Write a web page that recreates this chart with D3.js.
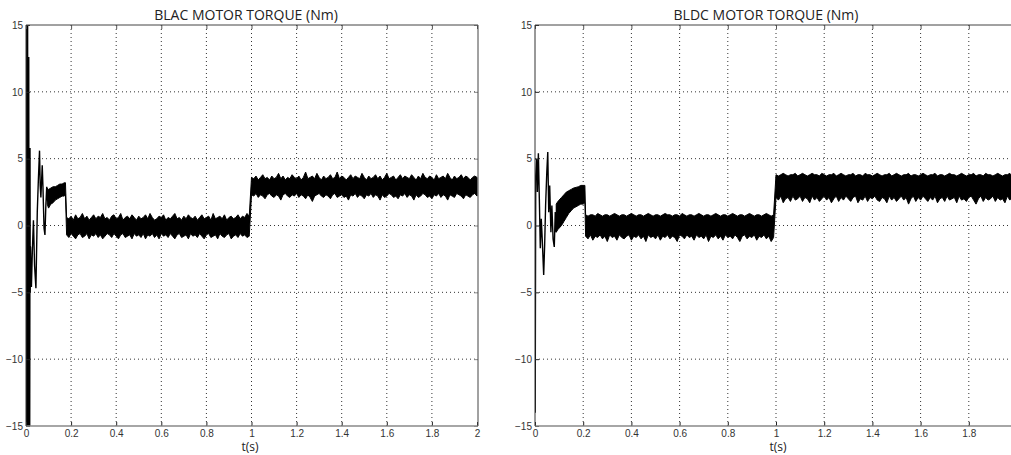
<!DOCTYPE html>
<html>
<head>
<meta charset="utf-8">
<script src="https://cdn.jsdelivr.net/npm/d3@7"></script>
<style>
  body { margin: 0; background: #fff; }
  .tick text { font-family: "Liberation Sans", Arial, sans-serif; font-size: 10px; fill: #333; }
  .title { font-family: "Open Sans", sans-serif; font-size: 14px; fill: #222; }
  .xlabel { font-family: "Open Sans", sans-serif; font-size: 12px; fill: #222; }
</style>
</head>
<body>
<svg id="chart" width="1011" height="455"></svg>
<script>
var w = 1011, h = 455;
var step = 0.01; // sample spacing of the steady-state envelopes (s)

var xTicksLeft = [0, 0.2, 0.4, 0.6, 0.8, 1, 1.2, 1.4, 1.6, 1.8, 2];
var xTicksRight = [0, 0.2, 0.4, 0.6, 0.8, 1, 1.2, 1.4, 1.6, 1.8];
var yTicks = [-15, -10, -5, 0, 5, 10, 15];

// ---- BLAC torque ----
var blacTransient = [[0,0],[0.0004,-12.2],[0.0012,15],[0.0022,-15],[0.0032,15],[0.0042,-15],[0.0052,15],
  [0.0062,-15],[0.0072,15],[0.0082,-15],[0.0095,12.6],[0.0108,-15],[0.0122,12.6],[0.0135,-15],[0.015,5.8],
  [0.0165,-15],[0.0178,5.8],[0.0188,-5],[0.020,-1.6],[0.024,-4.6],[0.028,-2.0],[0.033,0.4],[0.038,-3.0],
  [0.044,-4.7],[0.050,1.0],[0.055,3.5],[0.060,5.6],[0.063,3.0],[0.066,2.1],[0.072,4.5],[0.075,3.0],
  [0.080,-0.2],[0.084,-0.7],[0.088,1.5],[0.092,2.9],[0.096,1.8]];

var blacRiseT  = [0.094,0.10,0.11,0.12,0.13,0.14,0.15,0.16,0.17,0.175];
var blacRiseHi = [2.8,2.7,2.8,2.9,2.9,3.0,3.1,3.1,3.2,3.2];
var blacRiseLo = [1.6,1.3,1.6,1.7,1.9,2.0,2.1,2.2,2.2,2.3];

var blacLowStart = 0.18;
var blacLowHi = [0.6,0.5,0.7,0.4,0.8,0.5,0.6,0.9,0.5,0.7,
  0.4,0.6,0.8,0.5,0.7,0.6,0.9,0.5,0.6,0.4,
  0.7,0.8,0.5,0.6,0.9,0.4,0.6,0.7,0.5,0.8,
  0.6,0.4,0.7,0.5,0.6,0.8,0.5,0.9,0.6,0.4,
  0.5,0.7,0.6,0.8,0.4,0.6,0.5,0.7,0.9,0.5,
  0.6,0.4,0.7,0.5,0.8,0.6,0.5,0.7,0.4,0.6,
  0.8,0.5,0.6,0.7,0.4,0.9,0.5,0.6,0.7,0.5,
  0.8,0.4,0.6,0.7,0.5,0.6,0.8,0.5,0.7,0.6,
  0.9,0.7];
var blacLowLo = [-0.7,-0.9,-0.6,-0.8,-1.0,-0.7,-0.6,-0.9,-0.8,-0.6,
  -1.0,-0.7,-0.8,-0.6,-0.9,-0.7,-1.0,-0.8,-0.6,-0.7,
  -0.9,-0.6,-0.8,-1.0,-0.7,-0.6,-0.9,-0.8,-0.7,-1.0,
  -0.6,-0.8,-0.7,-0.9,-0.6,-1.0,-0.7,-0.8,-0.6,-0.9,
  -0.7,-1.0,-0.6,-0.8,-0.7,-0.9,-0.6,-0.8,-1.0,-0.7,
  -0.6,-0.9,-0.8,-0.7,-1.0,-0.6,-0.8,-0.7,-0.9,-0.6,
  -0.8,-1.0,-0.7,-0.6,-0.9,-0.8,-0.7,-1.0,-0.6,-0.8,
  -0.9,-0.7,-0.6,-1.0,-0.8,-0.7,-0.9,-0.6,-0.8,-0.7,
  -0.9,-0.8];

var blacHighStart = 1.0;
var blacHighHi = [3.6,3.5,3.7,3.4,3.6,3.8,3.5,3.6,3.4,3.7,
  3.5,3.6,3.9,3.5,3.7,3.4,3.6,3.5,3.8,3.6,
  3.5,3.7,3.4,3.6,4.0,3.5,3.6,3.7,3.5,3.9,
  3.6,3.4,3.7,3.5,3.6,3.8,3.5,3.6,4.0,3.5,
  3.7,3.6,3.4,3.6,3.8,3.5,3.7,3.6,3.5,3.9,
  3.6,3.4,3.7,3.5,3.6,3.8,3.5,3.7,3.4,3.6,
  3.9,3.5,3.6,3.7,3.4,3.6,3.8,3.5,3.7,3.6,
  3.5,3.8,3.6,3.4,3.7,3.5,3.9,3.6,3.5,3.7,
  3.6,3.4,3.8,3.5,3.6,3.7,3.5,3.9,3.6,3.4,
  3.7,3.5,3.6,3.8,3.5,3.7,3.6,3.4,3.6,3.7,
  3.6];
var blacHighLo = [2.3,2.2,2.4,2.1,2.3,2.2,2.0,2.3,2.4,2.2,
  2.1,2.3,2.2,1.9,2.3,2.4,2.2,2.1,2.3,2.2,
  2.4,2.1,2.3,2.2,2.0,2.3,2.1,1.8,2.2,2.3,
  2.4,2.2,2.1,2.3,2.2,2.0,2.3,2.4,2.1,2.2,
  2.3,2.1,2.2,1.9,2.3,2.2,2.4,2.1,2.3,2.2,
  2.0,2.3,2.2,2.4,2.1,2.3,2.2,1.9,2.3,2.1,
  2.2,2.4,2.3,2.1,2.2,2.0,2.3,2.2,2.4,2.1,
  2.3,2.2,1.9,2.3,2.1,2.2,2.4,2.3,2.1,2.2,
  2.0,2.3,2.2,2.4,2.1,2.3,2.2,1.9,2.3,2.2,
  2.1,2.4,2.3,2.2,2.0,2.3,2.2,2.1,2.3,2.4,
  2.2];

// ---- BLDC torque ----
var bldcTransient = [[0,0],[0.0008,-14],[0.003,3.7],[0.007,5.0],[0.010,2.5],[0.014,5.4],[0.018,2.0],
  [0.022,-1.7],[0.026,0.5],[0.030,-1.0],[0.036,-3.7],[0.040,-1.5],[0.044,1.5],[0.049,4.0],[0.053,5.5],
  [0.057,1.0],[0.061,3.0],[0.066,-0.5],[0.070,1.5],[0.075,-1.0],[0.080,-1.6],[0.084,1.0],[0.088,-0.5],
  [0.092,1.5]];

var bldcRiseT  = [0.088,0.095,0.10,0.11,0.12,0.13,0.14,0.15,0.16,0.17,0.18,0.19,0.20,0.207];
var bldcRiseHi = [1.6,1.8,1.9,2.1,2.3,2.5,2.6,2.7,2.8,2.85,2.9,3.0,3.0,3.0];
var bldcRiseLo = [-0.5,-0.3,-0.2,0.0,0.3,0.6,0.9,1.1,1.3,1.4,1.5,1.6,1.6,1.7];

var bldcLowStart = 0.21;
var bldcLowHi = [0.8,0.7,0.8,0.8,0.7,0.9,0.8,0.7,0.8,0.8,
  0.7,0.8,0.9,0.8,0.7,0.8,0.8,0.7,0.8,0.9,
  0.8,0.7,0.8,0.8,0.7,0.8,0.9,0.8,0.7,0.8,
  0.8,0.7,0.8,0.9,0.8,0.8,0.7,0.8,0.8,0.7,
  0.9,0.8,0.7,0.8,0.8,0.7,0.8,0.9,0.8,0.7,
  0.8,0.8,0.7,0.8,0.9,0.8,0.7,0.8,0.8,0.7,
  0.8,0.9,0.8,0.7,0.8,0.8,0.7,0.8,0.9,0.8,
  0.7,0.8,0.8,0.7,0.8,0.9,0.8,0.7,0.8];
var bldcLowLo = [-0.8,-1.0,-0.7,-1.1,-0.8,-0.9,-0.7,-1.0,-0.8,-1.2,
  -0.7,-0.9,-0.8,-1.1,-0.7,-0.9,-1.0,-0.8,-0.7,-1.1,
  -0.8,-0.9,-0.7,-1.0,-0.8,-1.2,-0.7,-0.9,-0.8,-1.0,
  -0.7,-1.1,-0.8,-0.9,-0.7,-1.0,-0.8,-0.9,-1.2,-0.7,
  -0.8,-1.0,-0.7,-0.9,-0.8,-1.1,-0.7,-0.9,-0.8,-1.0,
  -0.7,-1.2,-0.8,-0.9,-0.7,-1.0,-0.8,-1.1,-0.7,-0.9,
  -0.8,-1.0,-0.7,-0.9,-1.2,-0.8,-0.7,-1.0,-0.8,-0.9,
  -0.7,-1.1,-0.8,-0.9,-0.7,-1.0,-0.8,-1.2,-0.9];

var bldcHighStart = 1.0;
var bldcHighHi = [3.8,3.7,3.8,3.9,3.8,3.7,3.8,3.8,3.9,3.7,
  3.8,3.9,3.8,3.7,3.8,3.9,3.8,3.8,3.7,3.9,
  3.8,3.7,3.8,3.8,3.9,3.7,3.8,3.9,3.8,3.7,
  3.8,3.8,3.9,3.7,3.8,3.8,3.7,3.9,3.8,3.8,
  3.7,3.8,3.9,3.8,3.7,3.8,3.8,3.9,3.7,3.8,
  3.9,3.8,3.7,3.8,3.8,3.9,3.7,3.8,3.8,3.7,
  3.8,3.9,3.8,3.7,3.8,3.8,3.9,3.7,3.8,3.8,
  3.7,3.8,3.9,3.8,3.8,3.7,3.8,3.9,3.8,3.7,
  3.8,3.8,3.9,3.7,3.8,3.8,3.7,3.9,3.8,3.8,
  3.7,3.8,3.9,3.8,3.7,3.8,3.8,3.9,3.7,3.8];
var bldcHighLo = [2.1,1.9,2.2,1.7,2.0,2.1,1.8,2.2,1.9,2.0,
  2.2,1.8,2.1,2.0,1.7,2.2,1.9,2.1,1.8,2.0,
  2.2,1.9,2.1,1.7,2.0,2.2,1.8,2.1,1.9,2.2,
  2.0,1.8,2.1,2.2,1.7,2.0,1.9,2.2,1.8,2.1,
  2.0,2.2,1.9,1.8,2.1,2.0,1.7,2.2,1.9,2.1,
  1.8,2.0,2.2,1.9,2.1,1.6,2.0,2.2,1.8,2.1,
  1.9,2.2,2.0,1.8,2.1,1.9,2.2,1.7,2.0,2.1,
  1.8,2.2,1.9,2.0,2.1,1.7,2.2,1.9,2.0,1.8,
  2.1,2.2,1.9,1.6,2.0,2.2,1.8,2.1,1.9,2.0,
  2.2,1.8,2.1,1.9,2.0,1.7,2.2,1.9,2.1,2.0];

function envelope(tArr, hi, lo) {
  return hi.map((v, i) => ({ t: tArr[i], hi: v, lo: lo[i] }));
}
function sampled(start, hi, lo) {
  return hi.map((v, i) => ({ t: start + i * step, hi: v, lo: lo[i] }));
}

var panels = [
  {
    title: 'BLAC MOTOR TORQUE (Nm)', titleX: 246, labelX: 250,
    range: [26, 477], right: 478, ticks: xTicksLeft,
    transient: blacTransient,
    band: envelope(blacRiseT, blacRiseHi, blacRiseLo)
      .concat(sampled(blacLowStart, blacLowHi, blacLowLo))
      .concat(sampled(blacHighStart, blacHighHi, blacHighLo))
  },
  {
    title: 'BLDC MOTOR TORQUE (Nm)', titleX: 766, labelX: 778,
    range: [535, 1017], right: 1017, ticks: xTicksRight,
    transient: bldcTransient,
    band: envelope(bldcRiseT, bldcRiseHi, bldcRiseLo)
      .concat(sampled(bldcLowStart, bldcLowHi, bldcLowLo))
      .concat(sampled(bldcHighStart, bldcHighHi, bldcHighLo))
  }
];

var svg = d3.select('#chart');
var plotTop = 25, plotBottom = 426;

var yScale = d3.scaleLinear().domain([-15, 15]).range([plotBottom, plotTop]);

panels.forEach(function(p, k) {
  var xScale = d3.scaleLinear().domain([0, 2]).range(p.range);
  var left = p.range[0], right = p.right;
  var g = svg.append('g');

  g.append('clipPath').attr('id', 'clip' + k)
    .append('rect').attr('x', left).attr('y', plotTop)
    .attr('width', right - left).attr('height', plotBottom - plotTop);

  // dotted grid
  g.append('g').selectAll('line')
    .data(p.ticks.filter(d => d > 0 && d < 2))
    .enter().append('line')
    .attr('x1', d => xScale(d)).attr('x2', d => xScale(d))
    .attr('y1', plotTop).attr('y2', plotBottom)
    .attr('stroke', '#333').attr('stroke-dasharray', '1,3');
  g.append('g').selectAll('line')
    .data(yTicks.filter(d => d > -15 && d < 15))
    .enter().append('line')
    .attr('x1', left).attr('x2', right)
    .attr('y1', d => yScale(d)).attr('y2', d => yScale(d))
    .attr('stroke', '#333').attr('stroke-dasharray', '1,3');

  // data
  var plot = g.append('g').attr('clip-path', 'url(#clip' + k + ')');
  var area = d3.area()
    .x(d => xScale(d.t))
    .y0(d => yScale(d.lo))
    .y1(d => yScale(d.hi));
  plot.append('path')
    .datum(p.band)
    .attr('d', area)
    .attr('fill', '#000').attr('stroke', '#000').attr('stroke-width', 1);

  var line = d3.line()
    .x(d => xScale(d[0]))
    .y(d => yScale(d[1]));
  plot.append('path')
    .datum(p.transient)
    .attr('d', line)
    .attr('fill', 'none').attr('stroke', '#000').attr('stroke-width', 1.4);

  // axes with inward ticks
  var xAxis = d3.axisBottom(xScale).tickValues(p.ticks).tickSize(-4).tickPadding(4)
    .tickFormat(d3.format('~g'));
  var gx = g.append('g').attr('transform', `translate(0, ${plotBottom})`).call(xAxis);
  gx.select('.domain').remove();
  gx.selectAll('.tick line').attr('stroke', '#222');

  var xTop = d3.axisTop(xScale).tickValues(p.ticks).tickSize(-4).tickFormat('');
  var gt = g.append('g').attr('transform', `translate(0, ${plotTop})`).call(xTop);
  gt.select('.domain').remove();
  gt.selectAll('.tick line').attr('stroke', '#555');

  var yAxis = d3.axisLeft(yScale).tickValues(yTicks).tickSize(-4).tickPadding(3);
  var gy = g.append('g').attr('transform', `translate(${left}, 0)`).call(yAxis);
  gy.select('.domain').remove();
  gy.selectAll('.tick line').attr('stroke', '#222');

  if (k === 0) {
    var yRight = d3.axisRight(yScale).tickValues(yTicks).tickSize(-4).tickFormat('');
    var gr = g.append('g').attr('transform', `translate(${right}, 0)`).call(yRight);
    gr.select('.domain').remove();
    gr.selectAll('.tick line').attr('stroke', '#888');
  }

  // frame
  g.append('line').attr('x1', left).attr('x2', right).attr('y1', plotTop).attr('y2', plotTop)
    .attr('stroke', '#444');
  g.append('line').attr('x1', left).attr('x2', right).attr('y1', plotBottom).attr('y2', plotBottom)
    .attr('stroke', '#888').attr('stroke-width', 1.6);
  g.append('line').attr('x1', left).attr('x2', left).attr('y1', plotTop).attr('y2', plotBottom)
    .attr('stroke', '#333');
  if (k === 0) {
    g.append('line').attr('x1', right).attr('x2', right).attr('y1', plotTop).attr('y2', plotBottom)
      .attr('stroke', '#444');
  }

  g.append('text').attr('class', 'title')
    .attr('x', p.titleX).attr('y', 20).attr('text-anchor', 'middle')
    .text(p.title);
  g.append('text').attr('class', 'xlabel')
    .attr('x', p.labelX).attr('y', 451).attr('text-anchor', 'middle')
    .text('t(s)');
});
</script>
</body>
</html>
